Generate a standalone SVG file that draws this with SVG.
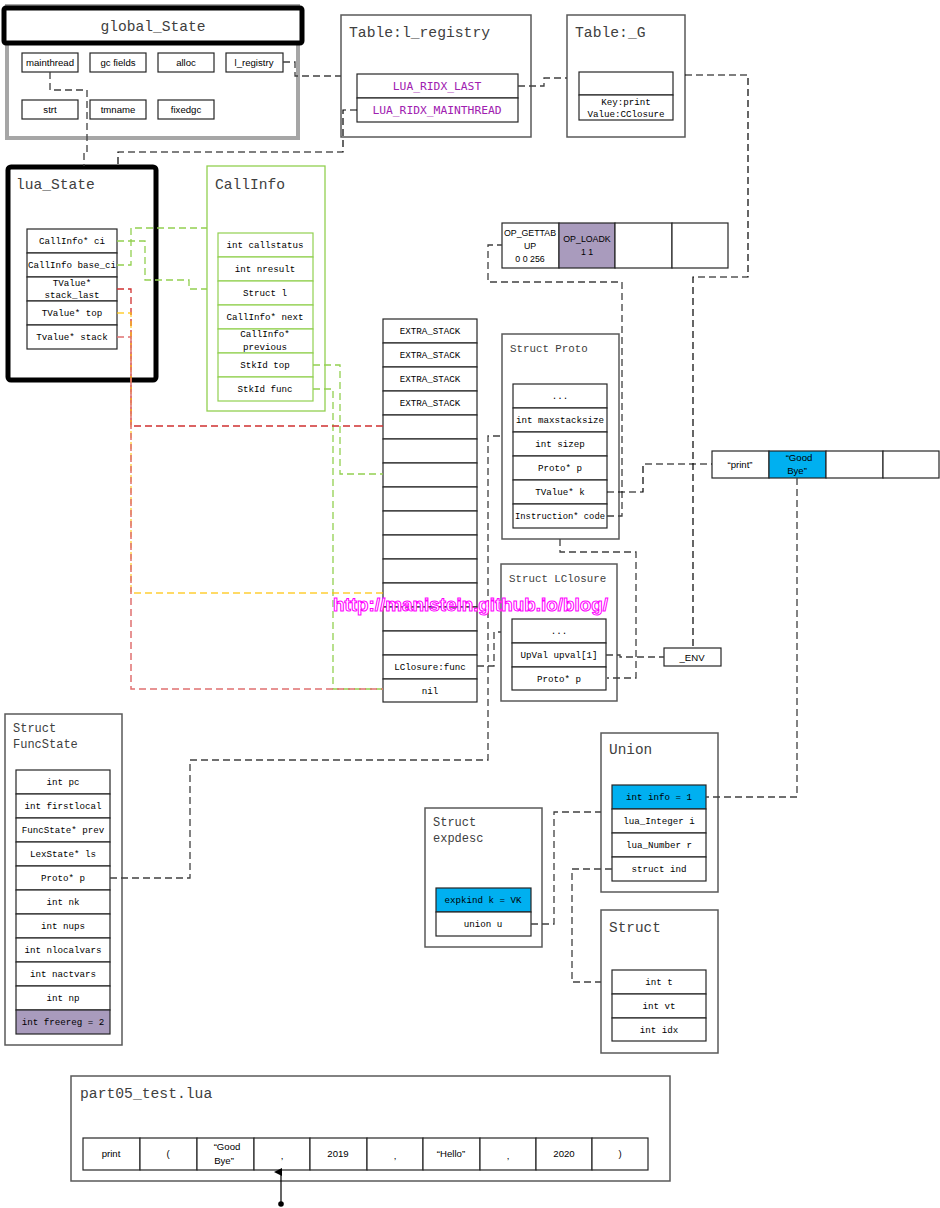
<svg xmlns="http://www.w3.org/2000/svg" width="940" height="1208" viewBox="0 0 940 1208">
<defs>
<style>
.bg{fill:#fff}
.box{fill:#fff;stroke:#595959;stroke-width:1.5}
.cell{fill:#fff;stroke:#262626;stroke-width:1.2}
.gcell{fill:#fff;stroke:#92d050;stroke-width:1.2}
.blue{fill:#00b0f0;stroke:#262626;stroke-width:1.2}
.purple{fill:#a99bbd;stroke:#262626;stroke-width:1.2}
.title{font-family:"Liberation Mono",monospace;fill:#404040}
.t{font-family:"Liberation Mono",monospace;font-size:9.2px;fill:#000;text-anchor:middle}
.s{font-family:"Liberation Sans",Arial,sans-serif;font-size:9.6px;fill:#000;text-anchor:middle}
.si{font-family:"Liberation Sans",Arial,sans-serif;font-size:8.8px;fill:#000;text-anchor:middle}
.p{font-family:"DejaVu Sans Mono",monospace;font-size:11.3px;fill:#a020b0;text-anchor:middle}
.c{fill:none;stroke:#404040;stroke-width:1.3;stroke-dasharray:7,4}
.cb{fill:none;stroke:#000;stroke-width:1.2;stroke-dasharray:7,4}
.cg{fill:none;stroke:#92d050;stroke-width:1.3;stroke-dasharray:7,4}
.cr{fill:none;stroke:#d03030;stroke-width:1.3;stroke-dasharray:7,4}
.cr2{fill:none;stroke:#e07070;stroke-width:1.5;stroke-dasharray:7,4}
.cy{fill:none;stroke:#ffc000;stroke-width:1.3;stroke-dasharray:7,4;opacity:0.8}
</style>
<marker id="arr" markerWidth="8" markerHeight="8" refX="4" refY="7" orient="auto-start-reverse" markerUnits="userSpaceOnUse">
<path d="M0,8 L4,0 L8,8 Z" fill="#000"/>
</marker>
</defs>
<rect class="bg" x="0" y="0" width="940" height="1208"/>

<g id="global_State">
<rect x="7" y="6" width="291" height="132" fill="#fff" stroke="#a6a6a6" stroke-width="4"/>
<rect x="4" y="8" width="298" height="35" rx="2" fill="#fff" stroke="#000" stroke-width="5"/>
<text class="title" x="153" y="31" font-size="14.6" text-anchor="middle">global_State</text>
<rect class="cell" x="22" y="53" width="56" height="19"/><text class="s" x="50" y="66">mainthread</text>
<rect class="cell" x="90" y="53" width="56" height="19"/><text class="s" x="118" y="66">gc fields</text>
<rect class="cell" x="158" y="53" width="56" height="19"/><text class="s" x="186" y="66">alloc</text>
<rect class="cell" x="226" y="53" width="57" height="19"/><text class="s" x="254" y="66">l_registry</text>
<rect class="cell" x="22" y="100" width="56" height="19"/><text class="s" x="50" y="113">strt</text>
<rect class="cell" x="90" y="100" width="56" height="19"/><text class="s" x="118" y="113">tmname</text>
<rect class="cell" x="158" y="100" width="56" height="19"/><text class="s" x="186" y="113">fixedgc</text>
</g>

<g id="table_registry">
<rect class="box" x="341" y="15" width="190" height="122"/>
<text class="title" x="349" y="37" font-size="14.7">Table:l_registry</text>
<rect class="cell" x="357" y="74" width="161" height="24"/><text class="p" x="437" y="90">LUA_RIDX_LAST</text>
<rect class="cell" x="357" y="98" width="161" height="24"/><text class="p" x="437" y="114">LUA_RIDX_MAINTHREAD</text>
</g>

<g id="table_G">
<rect class="box" x="567" y="15" width="118" height="122"/>
<text class="title" x="575" y="37" font-size="14.7">Table:_G</text>
<rect class="cell" x="579" y="72" width="94" height="23"/>
<rect class="cell" x="579" y="95" width="94" height="25"/>
<text class="t" x="626" y="105" font-size="9">Key:print</text>
<text class="t" x="626" y="117" font-size="9">Value:CClosure</text>
</g>

<g id="lua_State">
<rect x="8" y="167" width="148" height="213" rx="3" fill="#fff" stroke="#000" stroke-width="5"/>
<text class="title" x="16" y="189" font-size="14.6">lua_State</text>
<rect class="cell" x="27" y="229" width="90" height="24"/><text class="t" x="72" y="244">CallInfo* ci</text>
<rect class="cell" x="27" y="253" width="90" height="24"/><text class="t" x="72" y="268">CallInfo base_ci</text>
<rect class="cell" x="27" y="277" width="90" height="24"/><text class="t" x="72" y="286">TValue*</text><text class="t" x="72" y="298">stack_last</text>
<rect class="cell" x="27" y="301" width="90" height="24"/><text class="t" x="72" y="316">TValue* top</text>
<rect class="cell" x="27" y="325" width="90" height="24"/><text class="t" x="72" y="340">Tvalue* stack</text>
</g>

<g id="CallInfo">
<rect x="207" y="166" width="118" height="245" fill="#fff" stroke="#92d050" stroke-width="1.3"/>
<text class="title" x="215" y="189" font-size="14.6">CallInfo</text>
<rect class="gcell" x="218" y="233" width="95" height="24"/><text class="t" x="265" y="248">int callstatus</text>
<rect class="gcell" x="218" y="257" width="95" height="24"/><text class="t" x="265" y="272">int nresult</text>
<rect class="gcell" x="218" y="281" width="95" height="24"/><text class="t" x="265" y="296">Struct l</text>
<rect class="gcell" x="218" y="305" width="95" height="24"/><text class="t" x="265" y="320">CallInfo* next</text>
<rect class="gcell" x="218" y="329" width="95" height="24"/><text class="t" x="265" y="337">CallInfo*</text><text class="t" x="265" y="350">previous</text>
<rect class="gcell" x="218" y="353" width="95" height="24"/><text class="t" x="265" y="368">StkId top</text>
<rect class="gcell" x="218" y="377" width="95" height="24"/><text class="t" x="265" y="392">StkId func</text>
</g>

<g id="stack">
<rect class="cell" x="383" y="319" width="94" height="24"/><text class="t" x="430" y="334">EXTRA_STACK</text>
<rect class="cell" x="383" y="343" width="94" height="24"/><text class="t" x="430" y="358">EXTRA_STACK</text>
<rect class="cell" x="383" y="367" width="94" height="24"/><text class="t" x="430" y="382">EXTRA_STACK</text>
<rect class="cell" x="383" y="391" width="94" height="24"/><text class="t" x="430" y="406">EXTRA_STACK</text>
<rect class="cell" x="383" y="415" width="94" height="24"/>
<rect class="cell" x="383" y="439" width="94" height="24"/>
<rect class="cell" x="383" y="463" width="94" height="24"/>
<rect class="cell" x="383" y="487" width="94" height="24"/>
<rect class="cell" x="383" y="511" width="94" height="24"/>
<rect class="cell" x="383" y="535" width="94" height="24"/>
<rect class="cell" x="383" y="559" width="94" height="24"/>
<rect class="cell" x="383" y="583" width="94" height="24"/>
<rect class="cell" x="383" y="607" width="94" height="24"/>
<rect class="cell" x="383" y="631" width="94" height="24"/>
<rect class="cell" x="383" y="655" width="94" height="24"/><text class="t" x="430" y="670">LClosure:func</text>
<rect class="cell" x="383" y="679" width="94" height="23"/><text class="t" x="430" y="694">nil</text>
</g>

<g id="instructions">
<rect class="cell" x="502" y="223" width="57" height="45"/>
<text class="si" x="530" y="236">OP_GETTAB</text><text class="si" x="530" y="249">UP</text><text class="si" x="530" y="262">0 0 256</text>
<rect class="purple" x="559" y="223" width="56" height="45"/>
<text class="si" x="587" y="242">OP_LOADK</text><text class="si" x="587" y="255">1 1</text>
<rect class="cell" x="615" y="223" width="57" height="45"/>
<rect class="cell" x="672" y="223" width="56" height="45"/>
</g>

<g id="Proto">
<rect class="box" x="502" y="334" width="117" height="205"/>
<text class="title" x="510" y="352" font-size="10.8">Struct Proto</text>
<rect class="cell" x="513" y="384" width="94" height="24"/><text class="t" x="560" y="399">...</text>
<rect class="cell" x="513" y="408" width="94" height="24"/><text class="t" x="560" y="423">int maxstacksize</text>
<rect class="cell" x="513" y="432" width="94" height="24"/><text class="t" x="560" y="447">int sizep</text>
<rect class="cell" x="513" y="456" width="94" height="24"/><text class="t" x="560" y="471">Proto* p</text>
<rect class="cell" x="513" y="480" width="94" height="24"/><text class="t" x="560" y="495">TValue* k</text>
<rect class="cell" x="513" y="504" width="94" height="24"/><text class="t" x="560" y="519" textLength="90" lengthAdjust="spacingAndGlyphs">Instruction* code</text>
</g>

<g id="constants">
<rect class="cell" x="712" y="451" width="57" height="27"/><text class="s" x="740" y="468">“print”</text>
<rect class="blue" x="769" y="451" width="57" height="27"/><text class="s" x="799" y="461">“Good</text><text class="s" x="797" y="474">Bye”</text>
<rect class="cell" x="826" y="451" width="57" height="27"/>
<rect class="cell" x="883" y="451" width="56" height="27"/>
</g>

<g id="LClosure">
<rect class="box" x="501" y="564" width="116" height="137"/>
<text class="title" x="509" y="582" font-size="10.8">Struct LClosure</text>
<rect class="cell" x="512" y="619" width="94" height="24"/><text class="t" x="559" y="634">...</text>
<rect class="cell" x="512" y="643" width="94" height="24"/><text class="t" x="559" y="658">UpVal upval[1]</text>
<rect class="cell" x="512" y="667" width="94" height="23"/><text class="t" x="559" y="682">Proto* p</text>
</g>

<g id="ENV">
<rect class="cell" x="664" y="648" width="57" height="18"/><text class="s" x="692" y="661">_ENV</text>
</g>

<g id="FuncState">
<rect class="box" x="5" y="714" width="117" height="331"/>
<text class="title" x="13" y="732" font-size="12">Struct</text>
<text class="title" x="13" y="748" font-size="12">FuncState</text>
<rect class="cell" x="16" y="770" width="94" height="24"/><text class="t" x="63" y="785">int pc</text>
<rect class="cell" x="16" y="794" width="94" height="24"/><text class="t" x="63" y="809">int firstlocal</text>
<rect class="cell" x="16" y="818" width="94" height="24"/><text class="t" x="63" y="833">FuncState* prev</text>
<rect class="cell" x="16" y="842" width="94" height="24"/><text class="t" x="63" y="857">LexState* ls</text>
<rect class="cell" x="16" y="866" width="94" height="24"/><text class="t" x="63" y="881">Proto* p</text>
<rect class="cell" x="16" y="890" width="94" height="24"/><text class="t" x="63" y="905">int nk</text>
<rect class="cell" x="16" y="914" width="94" height="24"/><text class="t" x="63" y="929">int nups</text>
<rect class="cell" x="16" y="938" width="94" height="24"/><text class="t" x="63" y="953">int nlocalvars</text>
<rect class="cell" x="16" y="962" width="94" height="24"/><text class="t" x="63" y="977">int nactvars</text>
<rect class="cell" x="16" y="986" width="94" height="24"/><text class="t" x="63" y="1001">int np</text>
<rect class="purple" x="16" y="1010" width="94" height="24"/><text class="t" x="63" y="1025">int freereg = 2</text>
</g>

<g id="expdesc">
<rect class="box" x="425" y="808" width="117" height="139"/>
<text class="title" x="433" y="826" font-size="12">Struct</text>
<text class="title" x="433" y="842" font-size="12">expdesc</text>
<rect class="blue" x="436" y="888" width="95" height="24"/><text class="t" x="483" y="903">expkind k = VK</text>
<rect class="cell" x="436" y="912" width="95" height="24"/><text class="t" x="483" y="927">union u</text>
</g>

<g id="Union">
<rect class="box" x="601" y="733" width="117" height="159"/>
<text class="title" x="609" y="754" font-size="14.4">Union</text>
<rect class="blue" x="612" y="785" width="94" height="24"/><text class="t" x="659" y="800">int info = 1</text>
<rect class="cell" x="612" y="809" width="94" height="24"/><text class="t" x="659" y="824">lua_Integer i</text>
<rect class="cell" x="612" y="833" width="94" height="24"/><text class="t" x="659" y="848">lua_Number r</text>
<rect class="cell" x="612" y="857" width="94" height="24"/><text class="t" x="659" y="872">struct ind</text>
</g>

<g id="Struct">
<rect class="box" x="601" y="910" width="117" height="143"/>
<text class="title" x="609" y="932" font-size="14.4">Struct</text>
<rect class="cell" x="612" y="970" width="94" height="24"/><text class="t" x="659" y="985">int t</text>
<rect class="cell" x="612" y="994" width="94" height="24"/><text class="t" x="659" y="1009">int vt</text>
<rect class="cell" x="612" y="1018" width="94" height="23"/><text class="t" x="659" y="1033">int idx</text>
</g>

<g id="part05_test">
<rect class="box" x="71" y="1076" width="599" height="105"/>
<text class="title" x="80" y="1098" font-size="14.7">part05_test.lua</text>
<rect class="cell" x="83" y="1138" width="57" height="32"/><text class="s" x="111" y="1157">print</text>
<rect class="cell" x="140" y="1138" width="57" height="32"/><text class="s" x="168" y="1157">(</text>
<rect class="cell" x="197" y="1138" width="57" height="32"/><text class="s" x="227" y="1150">“Good</text><text class="s" x="224" y="1164">Bye”</text>
<rect class="cell" x="254" y="1138" width="56" height="32"/><text class="s" x="282" y="1159">,</text>
<rect class="cell" x="310" y="1138" width="57" height="32"/><text class="s" x="338" y="1157">2019</text>
<rect class="cell" x="367" y="1138" width="56" height="32"/><text class="s" x="395" y="1159">,</text>
<rect class="cell" x="423" y="1138" width="57" height="32"/><text class="s" x="451" y="1157">“Hello”</text>
<rect class="cell" x="480" y="1138" width="56" height="32"/><text class="s" x="508" y="1159">,</text>
<rect class="cell" x="536" y="1138" width="56" height="32"/><text class="s" x="564" y="1157">2020</text>
<rect class="cell" x="592" y="1138" width="56" height="32"/><text class="s" x="620" y="1157">)</text>
</g>

<g id="connectors">
<path class="c" d="M50,72 V90 H87 V153 H84 V166"/>
<path class="cb" d="M357,110 H343 V152 H118 V166"/>
<path class="c" d="M283,62 H295 V76 H341"/>
<path class="c" d="M518,86 H544 V78 H567"/>
<path class="cb" d="M685,75 H748 V277 H693 V648"/>
<path class="c" d="M607,516 H622 V282 H488 V245 H502"/>
<path class="cb" d="M607,492 H643 V464 H712"/>
<path class="c" d="M797,478 V797 H706"/>
<path class="c" d="M560,539 V552 H636 V678 H607"/>
<path class="c" d="M606,655 H620 V657 H664"/>
<path class="c" d="M477,666 H494 V632 H501"/>
<path class="c" d="M110,878 H190 V760 H488 V436 H502"/>
<path class="c" d="M531,924 H554 V812 H601"/>
<path class="c" d="M612,869 H572 V982 H601"/>
<path class="cg" d="M117,241 H145 V280 H189 V289 H207"/>
<path class="cg" d="M117,265 H131 V228 H207"/>
<path class="cg" d="M313,365 H340 V474 H383"/>
<path class="cg" d="M313,389 H333 V689 H383"/>
<path class="cr" d="M117,289 H131 V426 H383"/>
<path class="cy" d="M117,313 H131 V593 H383"/>
<path class="cr2" d="M117,337 H131 V689 H383"/>
<line x1="281" y1="1204" x2="281" y2="1172" stroke="#000" stroke-width="1.2" marker-end="url(#arr)"/>
<circle cx="281" cy="1204" r="2.8" fill="#000"/>
</g>

<text x="333" y="611" font-family="'Liberation Sans',Arial,sans-serif" font-size="18" font-weight="bold" fill="#fff" stroke="#ff00ff" stroke-width="1" textLength="275" lengthAdjust="spacingAndGlyphs">http://manistein.github.io/blog/</text>
</svg>
